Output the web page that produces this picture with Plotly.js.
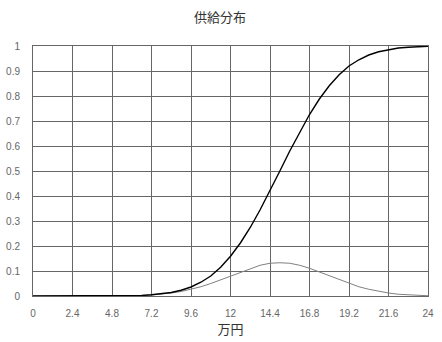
<!DOCTYPE html>
<html>
<head>
<meta charset="utf-8">
<script src="https://cdn.plot.ly/plotly-3.0.1.min.js"></script>
<style>html,body{margin:0;padding:0;background:#fff;}#chart{width:442px;height:342px;}</style>
</head>
<body>
<div id="chart"></div>
<script>
const xValues = [0,0.6,1.2,1.8,2.4,3.0,3.6,4.2,4.8,5.4,6.0,6.6,7.2,7.8,8.4,9.0,9.6,10.2,10.8,11.4,12.0,12.6,13.2,13.8,14.4,15.0,15.6,16.2,16.8,17.4,18.0,18.6,19.2,19.8,20.4,21.0,21.6,22.2,22.8,23.4,24.0];
const cdfValues = [0,0,0,0,0,0,0,0,0,0.001,0.001,0.002,0.005,0.008,0.014,0.023,0.036,0.055,0.08,0.115,0.159,0.212,0.274,0.345,0.42,0.5,0.58,0.655,0.726,0.788,0.841,0.885,0.92,0.945,0.964,0.977,0.986,0.992,0.995,0.997,0.999];
const pdfValues = [0,0,0,0,0,0,0,0,0,0.001,0.001,0.002,0.004,0.007,0.012,0.018,0.027,0.037,0.05,0.065,0.081,0.096,0.111,0.123,0.131,0.133,0.131,0.123,0.111,0.096,0.081,0.065,0.05,0.037,0.027,0.018,0.012,0.007,0.004,0.002,0.001];
const xTicks = [0,2.4,4.8,7.2,9.6,12,14.4,16.8,19.2,21.6,24];
const xTickText = ["0","2.4","4.8","7.2","9.6","12","14.4","16.8","19.2","21.6","24"];
const yTicks = [0,0.1,0.2,0.3,0.4,0.5,0.6,0.7,0.8,0.9,1];
const yTickText = ["0","0.1","0.2","0.3","0.4","0.5","0.6","0.7","0.8","0.9","1"];

const gridColor = '#666666';
const tickFont = {family: '"Liberation Sans", Arial, sans-serif', size: 10, color: '#666'};

const traces = [
  {x: xValues, y: pdfValues, mode: 'lines', line: {color: '#808080', width: 1}, hoverinfo: 'none'},
  {x: xValues, y: cdfValues, mode: 'lines', line: {color: '#000000', width: 1.4}, hoverinfo: 'none'}
];

const layout = {
  width: 442, height: 342,
  margin: {l: 33, r: 14, t: 46, b: 46},
  paper_bgcolor: '#ffffff', plot_bgcolor: '#ffffff',
  showlegend: false,
  title: {text: '供給分布', x: 0.498, xanchor: 'center', y: 0.95, yanchor: 'middle',
          font: {family: '"Noto Sans CJK JP", sans-serif', size: 13, color: '#333'}},
  xaxis: {
    range: [0, 24], tickvals: xTicks, ticktext: xTickText,
    showgrid: true, gridcolor: gridColor, gridwidth: 1,
    showline: true, linecolor: gridColor, linewidth: 1, mirror: true,
    zeroline: false, ticks: '', ticklabelstandoff: 8,
    tickfont: tickFont,
    title: {text: '万円', standoff: 5, font: {family: '"Noto Sans CJK JP", sans-serif', size: 13, color: '#333'}}
  },
  yaxis: {
    range: [0, 1], tickvals: yTicks, ticktext: yTickText,
    showgrid: true, gridcolor: gridColor, gridwidth: 1,
    showline: true, linecolor: gridColor, linewidth: 1, mirror: true,
    zeroline: false, ticks: '', ticklabelstandoff: 10,
    tickfont: tickFont
  }
};

Plotly.newPlot('chart', traces, layout, {displayModeBar: false, staticPlot: true});
</script>
</body>
</html>
